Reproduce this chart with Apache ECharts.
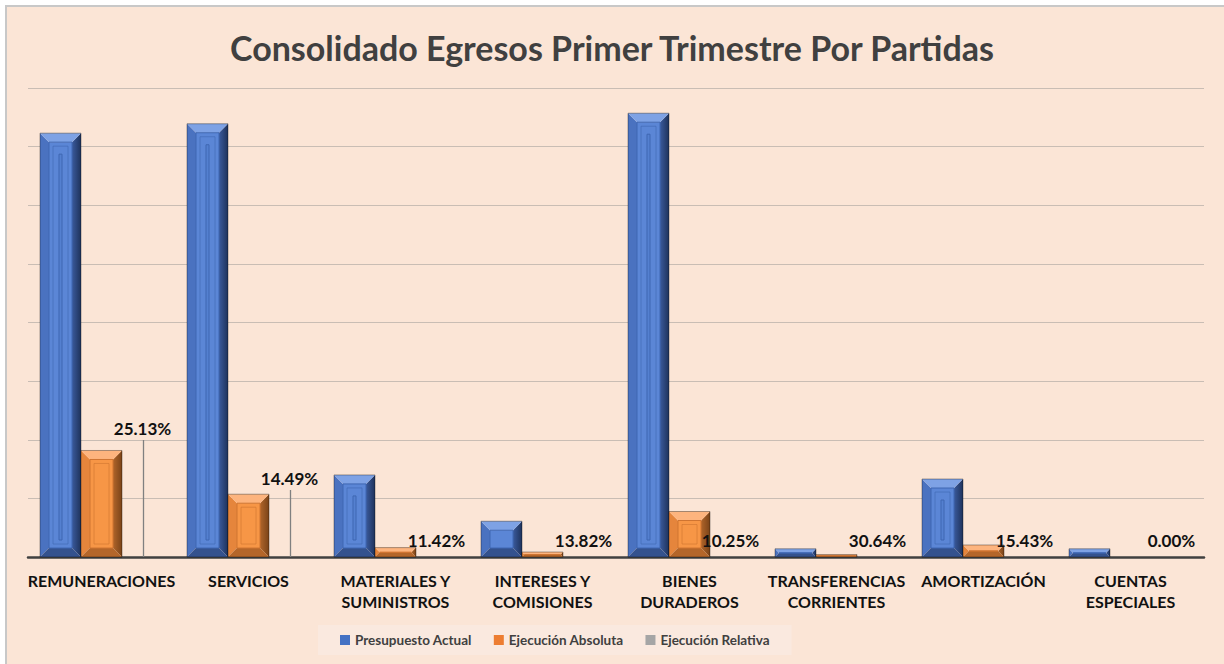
<!DOCTYPE html>
<html>
<head>
<meta charset="utf-8">
<script src="https://cdn.jsdelivr.net/npm/echarts@6/dist/echarts.min.js"></script>
<style>
  html, body { margin: 0; padding: 0; background: #ffffff; }
  #chart { width: 1224px; height: 664px; }
</style>
</head>
<body>
<div id="chart"></div>
<script>
// ---- data ----
const categories = ['REMUNERACIONES', 'SERVICIOS', 'MATERIALES Y SUMINISTROS', 'INTERESES Y COMISIONES',
  'BIENES DURADEROS', 'TRANSFERENCIAS CORRIENTES', 'AMORTIZACIÓN', 'CUENTAS ESPECIALES'];
const presupuestoActual = [7.23, 7.39, 1.40, 0.61, 7.57, 0.14, 1.33, 0.14];
const ejecucionAbsoluta = [1.817, 1.071, 0.160, 0.085, 0.776, 0.042, 0.205, 0.0];
const ejecucionRelativa = [25.13, 14.49, 11.42, 13.82, 10.25, 30.64, 15.43, 0.00];
const seriesNames = ['Presupuesto Actual', 'Ejecución Absoluta', 'Ejecución Relativa'];

// ---- layout / style ----
const FONT = 'Lato, "Open Sans", sans-serif';
const BAR_FRAC = 41 / 147;
const LABEL_LIFT = [112, 62, 0, 0, 0, 0, 0, 0];

const BLUE = { left: '#4A72C0', top: '#7EA2E5', rightA: '#3A5A9C', rightB: '#1E325B', bottom: '#34528E',
  face: '#5B86D6', inner: '#3F67B2', core: '#5480D0', main: '#4472C4' };
const ORANGE = { left: '#E5853C', top: '#FDB47E', rightA: '#B0652A', rightB: '#7A4318', bottom: '#B4662A',
  face: '#F79646', inner: '#CF7431', core: '#F99C50', main: '#ED7D31' };

function bevelRenderer(pal, offset) {
  return function (params, api) {
    const i = api.value(0), v = api.value(1);
    if (!(v > 0)) return null;
    const topP = api.coord([i, v]);
    const baseP = api.coord([i, 0]);
    const band = api.size([1, 0])[0];
    const w = band * BAR_FRAC;
    const cx = baseP[0] + offset * w;
    const x0 = cx - w / 2, x1 = cx + w / 2;
    const yT = topP[1], yB = baseP[1];
    const h = yB - yT;
    const b = Math.max(1, Math.min(9, h / 2, w / 2));
    const children = [
      { type: 'polygon', shape: { points: [[x0, yT], [x0 + b, yT + b], [x0 + b, yB - b], [x0, yB]] },
        style: { fill: pal.left } },
      { type: 'polygon', shape: { points: [[x1, yT], [x1 - b, yT + b], [x1 - b, yB - b], [x1, yB]] },
        style: { fill: new echarts.graphic.LinearGradient(0, 0, 1, 0, [{ offset: 0, color: pal.rightA }, { offset: 1, color: pal.rightB }]) } },
      { type: 'polygon', shape: { points: [[x0, yB], [x0 + b, yB - b], [x1 - b, yB - b], [x1, yB]] },
        style: { fill: pal.bottom } },
      { type: 'polygon', shape: { points: [[x0, yT], [x1, yT], [x1 - b, yT + b], [x0 + b, yT + b]] },
        style: { fill: pal.top } },
      { type: 'rect', shape: { x: x0 + b, y: yT + b, width: w - 2 * b, height: Math.max(0, h - 2 * b) },
        style: { fill: pal.face, stroke: pal.inner, lineWidth: 1 } }
    ];
    const innerH = h - 2 * b;
    if (innerH > 20) {
      children.push({ type: 'rect', shape: { x: x0 + b + 4, y: yT + b + 4, width: w - 2 * b - 8, height: innerH - 8 },
        style: { fill: 'none', stroke: pal.inner, lineWidth: 1, opacity: 0.6 } });
      if (pal === BLUE && innerH > 40) {
        children.push({ type: 'rect', shape: { x: cx - 1.5, y: yT + b + 12, width: 3, height: innerH - 20 },
          style: { fill: pal.core, stroke: pal.inner, lineWidth: 1 } });
      }
    }
    children.push({ type: 'rect', shape: { x: x0, y: yT, width: w, height: h },
      style: { fill: 'none', stroke: 'rgba(0,0,0,0.35)', lineWidth: 1 } });
    return { type: 'group', children: children, opacity: 0.95 };
  };
}

function relativeRenderer(params, api) {
  const i = api.value(0), v = api.value(1);
  const baseP = api.coord([i, 0]);
  const band = api.size([1, 0])[0];
  const w = band * BAR_FRAC;
  const cx = baseP[0] + w;
  const lift = LABEL_LIFT[params.dataIndex] || 0;
  const ly = baseP[1] - 17 - lift;
  const children = [];
  if (lift > 0) {
    children.push({ type: 'line', shape: { x1: cx + 1, y1: ly + 12, x2: cx + 1, y2: baseP[1] },
      style: { stroke: '#808080', lineWidth: 1.3 } });
  }
  children.push({ type: 'text', style: { text: v.toFixed(2) + '%', x: cx, y: ly, align: 'center',
    verticalAlign: 'middle', font: 'bold 17px ' + FONT, fill: '#111111' } });
  return { type: 'group', children: children };
}

const chart = echarts.init(document.getElementById('chart'), null, { renderer: 'svg' });
chart.setOption({
  backgroundColor: '#FBE5D6',
  animation: false,
  title: {
    text: 'Consolidado Egresos Primer Trimestre Por Partidas',
    left: 'center', top: 25,
    textStyle: { fontFamily: FONT, fontSize: 34, fontWeight: 'bold', color: '#404040' }
  },
  graphic: [
    { type: 'rect', shape: { x: 0, y: 0, width: 1224, height: 5 }, style: { fill: '#ffffff' }, z: 100 },
    { type: 'rect', shape: { x: 0, y: 0, width: 5, height: 664 }, style: { fill: '#ffffff' }, z: 100 },
    { type: 'line', shape: { x1: 5, y1: 6, x2: 1224, y2: 6 }, style: { stroke: '#C8C8C8', lineWidth: 2 }, z: 100 },
    { type: 'line', shape: { x1: 6, y1: 5, x2: 6, y2: 664 }, style: { stroke: '#C8C8C8', lineWidth: 2 }, z: 100 }
  ],
  legend: {
    data: seriesNames,
    left: 318, bottom: 9,
    backgroundColor: '#FAE9DF',
    padding: [8, 22],
    itemGap: 22,
    itemWidth: 10, itemHeight: 10,
    icon: 'rect',
    textStyle: { fontFamily: FONT, fontSize: 13.5, fontWeight: 'bold', color: '#404040' }
  },
  grid: { left: 28, right: 20, top: 88, bottom: 107 },
  xAxis: {
    type: 'category',
    data: categories,
    axisLine: { lineStyle: { color: '#404040', width: 2.5 } },
    axisTick: { show: false },
    axisLabel: {
      interval: 0, margin: 13, lineHeight: 21,
      fontFamily: FONT, fontSize: 16, fontWeight: 'bold', color: '#111111',
      formatter: function (s) { const k = s.lastIndexOf(' '); return k > 0 ? s.slice(0, k) + '\n' + s.slice(k + 1) : s; }
    }
  },
  yAxis: [
    { type: 'value', min: 0, max: 8, interval: 1,
      axisLabel: { show: false }, axisLine: { show: false }, axisTick: { show: false },
      splitLine: { lineStyle: { color: '#C9BDB4', width: 1.2 } } },
    { type: 'value', min: 0, max: 100, show: false, splitLine: { show: false } }
  ],
  series: [
    { name: seriesNames[0], type: 'custom', itemStyle: { color: BLUE.main },
      renderItem: bevelRenderer(BLUE, -1), encode: { x: 0, y: 1 },
      data: presupuestoActual.map((v, i) => [i, v]) },
    { name: seriesNames[1], type: 'custom', itemStyle: { color: ORANGE.main },
      renderItem: bevelRenderer(ORANGE, 0), encode: { x: 0, y: 1 },
      data: ejecucionAbsoluta.map((v, i) => [i, v]) },
    { name: seriesNames[2], type: 'custom', yAxisIndex: 1, itemStyle: { color: '#A5A5A5' },
      renderItem: relativeRenderer, encode: { x: 0, y: 1 },
      data: ejecucionRelativa.map((v, i) => [i, v]) }
  ]
});
</script>
</body>
</html>
